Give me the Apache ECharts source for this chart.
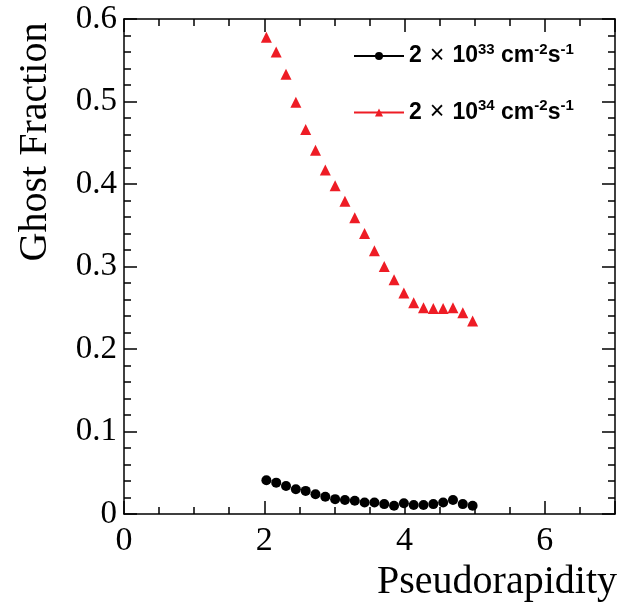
<!DOCTYPE html>
<html>
<head>
<meta charset="utf-8">
<script src="https://cdn.jsdelivr.net/npm/echarts@6/dist/echarts.min.js"></script>
<style>
  html, body { margin: 0; padding: 0; background: #fff; }
  #chart { width: 618px; height: 602px; }
</style>
</head>
<body>
<div id="chart"></div>
<script>
// pseudorapidity bin centres
const eta = [2.03, 2.17, 2.31, 2.45, 2.59, 2.73, 2.87, 3.01, 3.15, 3.29, 3.43,
             3.57, 3.71, 3.85, 3.99, 4.13, 4.27, 4.41, 4.55, 4.69, 4.83, 4.97]

// ghost fraction at 2e33
const ghostLow = [0.041, 0.038, 0.034, 0.030, 0.028, 0.024, 0.021, 0.018, 0.017, 0.016, 0.014,
                  0.014, 0.012, 0.010, 0.013, 0.011, 0.011, 0.012, 0.014, 0.017, 0.012, 0.010]

// ghost fraction at 2e34
const ghostHigh = [0.578, 0.560, 0.533, 0.499, 0.466, 0.441, 0.417, 0.398, 0.379, 0.359, 0.340,
                   0.319, 0.300, 0.284, 0.268, 0.256, 0.250, 0.249, 0.249, 0.250, 0.244, 0.234]

const xTicks = [0, 2, 4, 6]
const yTicks = [0, 0.1, 0.2, 0.3, 0.4, 0.5, 0.6]

const seriesNames = ['low', 'high']
const red = '#ee1c25'

const chart = echarts.init(document.getElementById('chart'))

const pairs = (xs, ys) => xs.map((x, i) => [x, ys[i]])

const frameX = (pos, labels) => ({
  type: 'value',
  position: pos,
  min: xTicks[0],
  max: 7,
  interval: xTicks[1] - xTicks[0],
  axisLine: { show: true, onZero: false, lineStyle: { color: '#000', width: 1.5 } },
  axisTick: { show: true, inside: true, length: 13, lineStyle: { color: '#000', width: 1.5 } },
  minorTick: { show: true, splitNumber: 4, length: 7, lineStyle: { color: '#000', width: 1.5 } },
  splitLine: { show: false },
  axisLabel: {
    show: labels,
    margin: 10,
    color: '#000',
    fontFamily: 'Liberation Serif',
    fontSize: 34,
    formatter: v => (xTicks.includes(v) ? String(v) : '')
  }
})

const frameY = (pos, labels) => ({
  type: 'value',
  position: pos,
  min: yTicks[0],
  max: yTicks[yTicks.length - 1],
  interval: 0.1,
  axisLine: { show: true, onZero: false, lineStyle: { color: '#000', width: 1.5 } },
  axisTick: { show: true, inside: true, length: 13, lineStyle: { color: '#000', width: 1.5 } },
  minorTick: { show: true, splitNumber: 5, length: 7, lineStyle: { color: '#000', width: 1.5 } },
  splitLine: { show: false },
  axisLabel: {
    show: labels,
    margin: 7,
    color: '#000',
    fontFamily: 'Liberation Serif',
    fontSize: 33,
    formatter: v => (v === 0 ? '0' : v.toFixed(1))
  }
})

const legendText = {
  low: '{b|2}{x|×}{b|10}{s|33}{b| cm}{s|-2}{b|s}{s|-1}',
  high: '{b|2}{x|×}{b|10}{s|34}{b| cm}{s|-2}{b|s}{s|-1}'
}

chart.setOption({
  animation: false,
  backgroundColor: '#fff',
  grid: { left: 124, right: -2, top: 19, bottom: 88 },
  xAxis: [frameX('bottom', true), frameX('top', false)],
  yAxis: [frameY('left', true), frameY('right', false)],
  legend: {
    orient: 'vertical',
    left: 348,
    top: 37,
    itemGap: 30,
    itemWidth: 50,
    itemHeight: 10,
    data: [
      { name: 'low', lineStyle: { color: '#000', width: 2, opacity: 1 } },
      { name: 'high', lineStyle: { color: red, width: 2, opacity: 1 } }
    ],
    formatter: name => legendText[name],
    textStyle: {
      color: '#000',
      rich: {
        b: { fontFamily: 'Liberation Sans', fontWeight: 'bold', fontSize: 23, lineHeight: 28, color: '#000' },
        x: { fontFamily: 'Liberation Sans', fontSize: 25, lineHeight: 28, color: '#000', padding: [0, 8, 0, 8] },
        s: { fontFamily: 'Liberation Sans', fontWeight: 'bold', fontSize: 15, verticalAlign: 'top', lineHeight: 16, color: '#000' }
      }
    }
  },
  graphic: [
    {
      type: 'text',
      x: 35,
      y: 142,
      rotation: Math.PI / 2,
      style: {
        text: 'Ghost Fraction',
        fontFamily: 'Liberation Serif',
        fontSize: 40,
        fill: '#000',
        align: 'center',
        verticalAlign: 'middle'
      }
    },
    {
      type: 'text',
      x: 617,
      y: 582,
      style: {
        text: 'Pseudorapidity',
        fontFamily: 'Liberation Serif',
        fontSize: 40,
        fill: '#000',
        align: 'right',
        verticalAlign: 'middle'
      }
    }
  ],
  series: [
    {
      name: seriesNames[0],
      type: 'line',
      data: pairs(eta, ghostLow),
      symbol: 'circle',
      symbolSize: 10,
      showSymbol: true,
      itemStyle: { color: '#000' },
      lineStyle: { opacity: 0 }
    },
    {
      name: seriesNames[1],
      type: 'line',
      data: pairs(eta, ghostHigh),
      symbol: 'triangle',
      symbolSize: 11,
      showSymbol: true,
      itemStyle: { color: red },
      lineStyle: { opacity: 0 }
    }
  ]
})
</script>
</body>
</html>
